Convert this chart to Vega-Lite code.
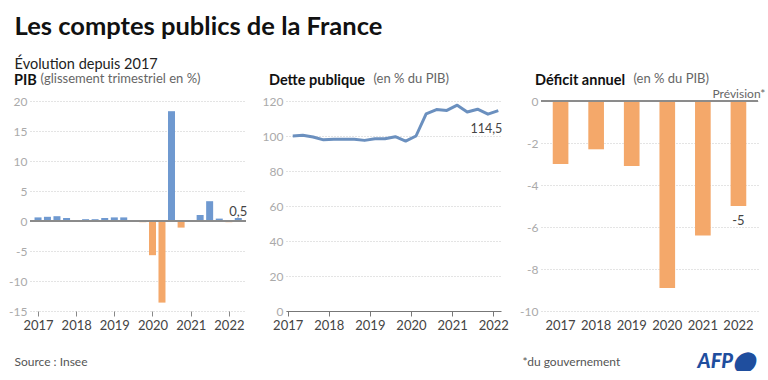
{
  "$schema": "https://vega.github.io/schema/vega-lite/v6.json",
  "padding": {"left": 8, "top": 15, "right": 0, "bottom": 0},
  "title": {
    "text": "Les comptes publics de la France",
    "subtitle": "Évolution depuis 2017",
    "anchor": "start",
    "dx": 6,
    "fontSize": 25.5,
    "fontWeight": "bold",
    "color": "#111111",
    "subtitleFontSize": 14.5,
    "subtitleColor": "#222222",
    "subtitlePadding": 17,
    "offset": 1
  },
  "datasets": {
    "pib": [
      {"date": "2017-01-01", "v": 0.6},
      {"date": "2017-04-01", "v": 0.7},
      {"date": "2017-07-01", "v": 0.8},
      {"date": "2017-10-01", "v": 0.5},
      {"date": "2018-01-01", "v": 0.1},
      {"date": "2018-04-01", "v": 0.3},
      {"date": "2018-07-01", "v": 0.3},
      {"date": "2018-10-01", "v": 0.5},
      {"date": "2019-01-01", "v": 0.6},
      {"date": "2019-04-01", "v": 0.6},
      {"date": "2019-07-01", "v": 0.0},
      {"date": "2019-10-01", "v": -0.2},
      {"date": "2020-01-01", "v": -5.7},
      {"date": "2020-04-01", "v": -13.6},
      {"date": "2020-07-01", "v": 18.3},
      {"date": "2020-10-01", "v": -1.1},
      {"date": "2021-01-01", "v": 0.0},
      {"date": "2021-04-01", "v": 1.0},
      {"date": "2021-07-01", "v": 3.3},
      {"date": "2021-10-01", "v": 0.4},
      {"date": "2022-01-01", "v": -0.2},
      {"date": "2022-04-01", "v": 0.5}
    ],
    "dette": [
      {"date": "2017-02-15", "v": 100.0},
      {"date": "2017-05-15", "v": 100.4},
      {"date": "2017-08-15", "v": 99.4},
      {"date": "2017-11-15", "v": 97.8},
      {"date": "2018-02-15", "v": 98.2},
      {"date": "2018-05-15", "v": 98.2},
      {"date": "2018-08-15", "v": 98.2},
      {"date": "2018-11-15", "v": 97.5},
      {"date": "2019-02-15", "v": 98.4},
      {"date": "2019-05-15", "v": 98.4},
      {"date": "2019-08-15", "v": 99.6},
      {"date": "2019-11-15", "v": 97.1},
      {"date": "2020-02-15", "v": 100.0},
      {"date": "2020-05-15", "v": 112.7},
      {"date": "2020-08-15", "v": 115.1},
      {"date": "2020-11-15", "v": 114.6},
      {"date": "2021-02-15", "v": 117.6},
      {"date": "2021-05-15", "v": 113.7},
      {"date": "2021-08-15", "v": 115.3},
      {"date": "2021-11-15", "v": 112.5},
      {"date": "2022-02-15", "v": 114.5}
    ],
    "deficit": [
      {"year": "2017", "v": -3.0},
      {"year": "2018", "v": -2.3},
      {"year": "2019", "v": -3.1},
      {"year": "2020", "v": -8.9},
      {"year": "2021", "v": -6.4},
      {"year": "2022", "v": -5.0}
    ]
  },
  "spacing": 40,
  "bounds": "flush",
  "hconcat": [
    {
      "width": 216,
      "height": 210,
      "title": {"text": "PIB", "anchor": "start", "frame": "group", "dx": -16, "dy": 27, "offset": 0, "fontSize": 14.5, "fontWeight": "bold", "color": "#111111", "baseline": "alphabetic"},
      "data": {"name": "pib"},
      "layer": [
        {
          "mark": {"type": "bar", "width": 7},
          "encoding": {
            "x": {
              "field": "date", "type": "temporal",
              "scale": {"type": "utc", "nice": false, "domain": [{"year": 2016, "month": 12, "date": 3, "utc": true}, {"year": 2022, "month": 4, "date": 27, "utc": true}]},
              "axis": {
                "format": "%Y", "tickCount": {"interval": "year", "step": 1}, "grid": false, "domain": false,
                "ticks": true, "tickSize": 5, "tickColor": "#888888", "labelColor": "#444444", "labelFontSize": 13,
                "labelPadding": 3, "labelFlush": false, "labelOverlap": false,
                "title": "Source : Insee", "titleX": -16, "titleY": 54, "titleAlign": "left",
                "titleBaseline": "alphabetic", "titleFontSize": 12, "titleFontWeight": "normal", "titleColor": "#555555"
              }
            },
            "y": {
              "field": "v", "type": "quantitative",
              "scale": {"domain": [-15, 20], "nice": false},
              "axis": {
                "values": [-15, -10, -5, 0, 5, 10, 15, 20], "tickCount": 20, "format": "d", "grid": true, "domain": false, "ticks": false,
                "labelPadding": 3, "labelOverlap": false,
                "title": "(glissement trimestriel en %)", "titleAngle": 0, "titleAlign": "left", "titleBaseline": "alphabetic",
                "titleX": 10, "titleY": -19, "titleFontSize": 13, "titleFontWeight": "normal", "titleColor": "#666666"
              }
            },
            "color": {"condition": {"test": "datum.v < 0", "value": "#f4a86a"}, "value": "#6f99d0"}
          }
        },
        {
          "mark": {"type": "rule", "color": "#8a8a8a", "strokeWidth": 1},
          "encoding": {"y": {"datum": 0}}
        },
        {
          "transform": [{"filter": "utcyear(datum.date) == 2022 && utcmonth(datum.date) == 3"}],
          "mark": {"type": "text", "dy": -6, "fontSize": 13, "color": "#444444"},
          "encoding": {
            "x": {"field": "date", "type": "temporal"},
            "y": {"field": "v", "type": "quantitative"},
            "text": {"field": "v", "type": "quantitative", "format": ".1~f"}
          }
        }
      ]
    },
    {
      "width": 215,
      "height": 210,
      "title": {"text": "Dette publique", "anchor": "start", "frame": "group", "dx": -17, "dy": 27, "offset": 0, "fontSize": 14.5, "fontWeight": "bold", "color": "#111111", "baseline": "alphabetic"},
      "data": {"name": "dette"},
      "layer": [
        {
          "mark": {"type": "line", "color": "#6b90bf", "strokeWidth": 3, "strokeJoin": "round"},
          "encoding": {
            "x": {
              "field": "date", "type": "temporal",
              "scale": {"type": "utc", "nice": false, "domain": [{"year": 2016, "month": 12, "date": 17, "utc": true}, {"year": 2022, "month": 3, "date": 11, "utc": true}]},
              "axis": {
                "format": "%Y", "tickCount": {"interval": "year", "step": 1}, "grid": false, "domain": true, "domainColor": "#777777",
                "ticks": true, "tickSize": 5, "tickColor": "#777777", "labelColor": "#444444", "labelFontSize": 13,
                "labelPadding": 3, "labelFlush": false, "labelOverlap": false,
                "title": "AFP⬤", "titleX": 411, "titleY": 56, "titleAlign": "left",
                "titleBaseline": "alphabetic", "titleFontSize": 20, "titleFontWeight": 900, "titleFontStyle": "italic", "titleColor": "#1f4e9e"
              }
            },
            "y": {
              "field": "v", "type": "quantitative",
              "scale": {"domain": [0, 120], "nice": false},
              "axis": {
                "values": [0, 20, 40, 60, 80, 100, 120], "tickCount": 20, "format": "d", "grid": true, "domain": false, "ticks": false,
                "labelPadding": 3, "labelOverlap": false,
                "title": "(en % du PIB)", "titleAngle": 0, "titleAlign": "left", "titleBaseline": "alphabetic",
                "titleX": 87, "titleY": -19, "titleFontSize": 13, "titleFontWeight": "normal", "titleColor": "#666666"
              }
            }
          }
        },
        {
          "transform": [{"filter": "utcyear(datum.date) == 2022"}],
          "mark": {"type": "text", "dx": -12, "dy": 18, "fontSize": 12.5, "color": "#444444"},
          "encoding": {
            "x": {"field": "date", "type": "temporal"},
            "y": {"field": "v", "type": "quantitative"},
            "text": {"field": "v", "type": "quantitative", "format": ".1~f"}
          }
        }
      ]
    },
    {
      "width": 217,
      "height": 210,
      "title": {"text": "Déficit annuel", "anchor": "start", "frame": "group", "dx": -6, "dy": 27, "offset": 0, "fontSize": 14.5, "fontWeight": "bold", "color": "#111111", "baseline": "alphabetic"},
      "data": {"name": "deficit"},
      "layer": [
        {
          "mark": {"type": "bar", "color": "#f4a86a"},
          "encoding": {
            "x": {
              "field": "year", "type": "ordinal",
              "scale": {"paddingInner": 0.56, "paddingOuter": 0.33},
              "axis": {
                "labelAngle": 0, "grid": false, "domain": false, "ticks": false, "labelColor": "#444444", "labelFontSize": 13,
                "labelPadding": 8,
                "title": "*du gouvernement", "titleX": -19, "titleY": 54, "titleAlign": "left",
                "titleBaseline": "alphabetic", "titleFontSize": 12, "titleFontWeight": "normal", "titleColor": "#555555"
              }
            },
            "y": {
              "field": "v", "type": "quantitative",
              "scale": {"domain": [-10, 0], "nice": false},
              "axis": {
                "values": [-10, -8, -6, -4, -2, 0], "tickCount": 20, "format": "d", "grid": true, "domain": false, "ticks": false,
                "labelPadding": 3, "labelOverlap": false,
                "title": "(en % du PIB)", "titleAngle": 0, "titleAlign": "left", "titleBaseline": "alphabetic",
                "titleX": 92, "titleY": -19, "titleFontSize": 13, "titleFontWeight": "normal", "titleColor": "#666666"
              }
            }
          }
        },
        {
          "mark": {"type": "rule", "color": "#8a8a8a", "strokeWidth": 1},
          "encoding": {"y": {"datum": 0}}
        },
        {
          "transform": [{"filter": "datum.year == '2022'"}],
          "mark": {"type": "text", "dy": 15, "fontSize": 13, "color": "#444444"},
          "encoding": {
            "x": {"field": "year", "type": "ordinal"},
            "y": {"field": "v", "type": "quantitative"},
            "text": {"field": "v", "type": "quantitative", "format": ".1~f"}
          }
        },
        {
          "transform": [{"filter": "datum.year == '2022'"}],
          "mark": {"type": "text", "dx": 27, "dy": -7, "align": "right", "fontSize": 12, "color": "#666666"},
          "encoding": {
            "x": {"field": "year", "type": "ordinal"},
            "y": {"datum": 0},
            "text": {"value": "Prévision*"}
          }
        }
      ]
    }
  ],
  "config": {
    "font": "Lato",
    "view": {"stroke": null},
    "axis": {
      "gridColor": "#c8c8c8",
      "gridDash": [1, 2],
      "gridWidth": 1,
      "labelColor": "#aaaaaa",
      "labelFontSize": 12
    },
    "locale": {
      "number": {"decimal": ",", "thousands": " ", "grouping": [3], "currency": ["", " €"], "minus": "-"}
    }
  }
}
